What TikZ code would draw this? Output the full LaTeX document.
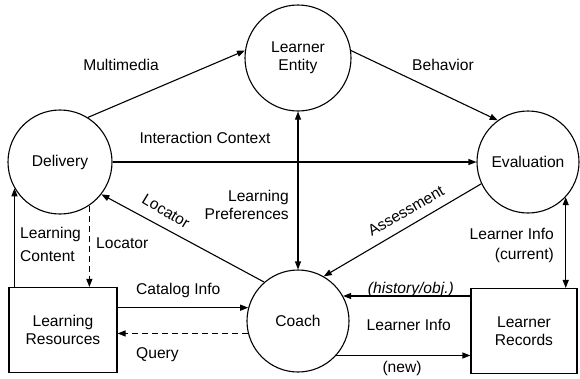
\documentclass[tikz,border=0pt]{standalone}
\usepackage{fontspec}
\setmainfont{Liberation Sans}
\usetikzlibrary{arrows.meta}
\begin{document}
\begin{tikzpicture}[x=1pt,y=-1pt,
  every node/.style={font=\fontsize{15.6}{18}\selectfont},
  proc/.style={draw,circle,line width=1.1pt,minimum size=#1,inner sep=0pt,align=center},
  store/.style={draw,rectangle,line width=1.1pt,minimum width=#1,minimum height=85pt,inner sep=0pt,align=center},
  flow/.style={line width=1.1pt,-{Triangle[length=8pt,width=6pt]}},
  both/.style={line width=1.1pt,{Triangle[length=8pt,width=6pt]}-{Triangle[length=8pt,width=6pt]}},
  dflow/.style={flow,dash pattern=on 6pt off 4pt},
  lbl/.style={inner sep=0pt}]
\useasboundingbox (0,0) rectangle (580,378);
% processes and stores
\node[proc=106pt] (le) at (298,58) {Learner\\Entity};
\node[proc=104pt] (del) at (60,162) {Delivery};
\node[proc=102pt] (ev) at (528,162) {Evaluation};
\node[proc=102pt] (co) at (298,321) {Coach};
\node[store=108pt] (lr) at (63,330) {Learning\\Resources};
\node[store=106pt] (rec) at (524,331) {Learner\\Records};
% connectors
\draw[flow] (del.58) -- (le.172);
\draw[flow] (le.8) -- (ev.126);
\draw[flow] (del.east) -- (ev.west);
\draw[both] (le.south) -- (co.north);
\draw[flow] (co.131) -- (del.-38);
\draw[flow] (ev.205) -- (co.60);
\draw[flow] (del.210 |- lr.north) -- (del.210);
\draw[dflow] (del.-56) -- (del.-56 |- lr.north);
\draw[flow] (co.165 -| lr.east) -- (co.165);
\draw[dflow] (co.194) -- (co.194 -| lr.east);
\draw[flow] (co.29 -| rec.west) -- (co.29);
\draw[flow] (co.-42) -- (co.-42 -| rec.west);
\draw[both] (ev.-43) -- (ev.-43 |- rec.north);
% labels
\node[lbl] (lMM) at (121,65) {Multimedia};
\node[lbl] (lBeh) at (443,65) {Behavior};
\node[lbl] (lIC) at (205,138) {Interaction Context};
\node[lbl,anchor=east,align=right] (lLP) at (289,205) {Learning\\Preferences};
\node[lbl,rotate=-31] (lLoc1) at (166,211) {Locator};
\node[lbl,rotate=30] (lAss) at (406,211) {Assessment};
\node[lbl,anchor=west,align=left] (lLC) at (20,244) {Learning\\[5pt]Content};
\node[lbl,anchor=west] (lLoc2) at (96,243) {Locator};
\node[lbl,anchor=west] (lCat) at (136,290) {Catalog Info};
\node[lbl,anchor=west] (lQ) at (136,355) {Query};
\node[lbl,anchor=east,font=\fontsize{15.6}{18}\selectfont\itshape] (lHist) at (454,289) {(history/obj.)};
\node[lbl,anchor=east] (lLI) at (451,325) {Learner Info};
\node[lbl] (lNew) at (402,368) {(new)};
\node[lbl,anchor=east,align=right] (lCur) at (554,245) {Learner Info\\[2pt](current)};
\end{tikzpicture}
\end{document}
